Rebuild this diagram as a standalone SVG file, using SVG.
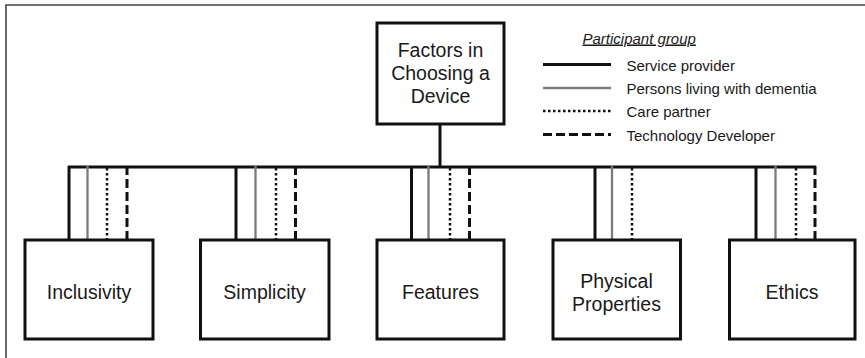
<svg xmlns="http://www.w3.org/2000/svg" width="865" height="358" viewBox="0 0 865 358">
  <style>
    .box { fill: #ffffff; stroke: #111111; stroke-width: 3; }
    .label { font-family: "Liberation Sans", Arial, sans-serif; font-size: 19.5px; fill: #1a1a1a; text-anchor: middle; }
    .legend { font-family: "Liberation Sans", Arial, sans-serif; font-size: 15px; fill: #1a1a1a; }
    .sp { stroke: #111111; stroke-width: 3; fill: none; }
    .pl { stroke: #7a7a7a; stroke-width: 2.3; fill: none; }
    .cp { stroke: #111111; stroke-width: 2.5; stroke-dasharray: 2.5 2.5; fill: none; }
    .td { stroke: #111111; stroke-width: 3; stroke-dasharray: 9 4; fill: none; }
  </style>

  <rect width="865" height="358" fill="#ffffff"/>
  <!-- outer frame -->
  <path d="M6 358 V5 H865" fill="none" stroke="#444444" stroke-width="1.6"/>

  <!-- connectors -->
  <g id="connectors">
    <line class="sp" x1="440" y1="124" x2="440" y2="167"/>
    <line class="sp" x1="68" y1="167" x2="816" y2="167"/>
    <!-- Inclusivity -->
    <line class="sp" x1="69" y1="166" x2="69" y2="240"/>
    <line class="pl" x1="87.5" y1="166" x2="87.5" y2="240"/>
    <line class="cp" x1="107" y1="168" x2="107" y2="240"/>
    <line class="td" x1="127" y1="166" x2="127" y2="240"/>
    <!-- Simplicity -->
    <line class="sp" x1="236" y1="166" x2="236" y2="240"/>
    <line class="pl" x1="255.5" y1="166" x2="255.5" y2="240"/>
    <line class="cp" x1="276" y1="168" x2="276" y2="240"/>
    <line class="td" x1="295.5" y1="166" x2="295.5" y2="240"/>
    <!-- Features -->
    <line class="sp" x1="411.5" y1="166" x2="411.5" y2="240"/>
    <line class="pl" x1="428.5" y1="166" x2="428.5" y2="240"/>
    <line class="cp" x1="450" y1="168" x2="450" y2="240"/>
    <line class="td" x1="469.5" y1="166" x2="469.5" y2="240"/>
    <!-- Physical Properties -->
    <line class="sp" x1="595" y1="166" x2="595" y2="240"/>
    <line class="pl" x1="612" y1="166" x2="612" y2="240"/>
    <line class="cp" x1="632" y1="168" x2="632" y2="240"/>
    <!-- Ethics -->
    <line class="sp" x1="756" y1="166" x2="756" y2="240"/>
    <line class="pl" x1="775.5" y1="166" x2="775.5" y2="240"/>
    <line class="cp" x1="796" y1="168" x2="796" y2="240"/>
    <line class="td" x1="815" y1="166" x2="815" y2="240"/>
  </g>

  <g id="root">
    <rect class="box" x="377" y="23" width="127" height="101"/>
    <text class="label" font-size="19" x="440.5" y="57">Factors in</text>
    <text class="label" x="440.5" y="80">Choosing a</text>
    <text class="label" x="440.5" y="103">Device</text>
  </g>

  <g id="inclusivity">
    <rect class="box" x="25" y="240" width="128" height="99"/>
    <text class="label" x="89" y="299">Inclusivity</text>
  </g>
  <g id="simplicity">
    <rect class="box" x="200.5" y="240" width="128.5" height="99"/>
    <text class="label" x="264.5" y="299">Simplicity</text>
  </g>
  <g id="features">
    <rect class="box" x="377" y="240" width="127" height="99"/>
    <text class="label" x="440.5" y="299">Features</text>
  </g>
  <g id="physical-properties">
    <rect class="box" x="553" y="240" width="127.5" height="99"/>
    <text class="label" x="616.5" y="287.5">Physical</text>
    <text class="label" x="616.5" y="310.5">Properties</text>
  </g>
  <g id="ethics">
    <rect class="box" x="729.5" y="240" width="125.5" height="99"/>
    <text class="label" x="792" y="299">Ethics</text>
  </g>

  <g id="legend">
    <text class="legend" x="582.5" y="43.5" font-size="16" font-style="italic" text-decoration="underline">Participant group</text>
    <line class="sp" x1="543" y1="64.5" x2="611" y2="64.5" stroke-width="3.3"/>
    <text class="legend" x="626.5" y="71">Service provider</text>
    <line class="pl" x1="543" y1="88" x2="611" y2="88" stroke-width="3.3"/>
    <text class="legend" x="626.5" y="94">Persons living with dementia</text>
    <line class="cp" x1="543" y1="111" x2="611" y2="111" stroke-width="3" stroke-dasharray="3 3.8"/>
    <text class="legend" x="626.5" y="117">Care partner</text>
    <line class="td" x1="543" y1="134.5" x2="611" y2="134.5" stroke-width="3.5" stroke-dasharray="14 8"/>
    <text class="legend" x="626.5" y="140.5">Technology Developer</text>
  </g>
</svg>
